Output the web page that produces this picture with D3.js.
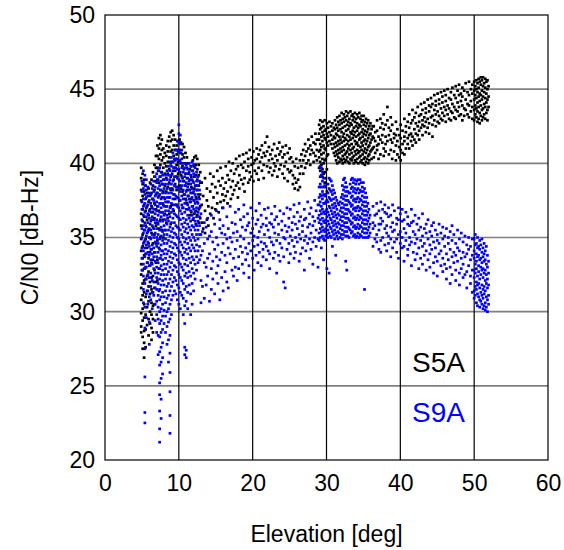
<!DOCTYPE html>
<html><head><meta charset="utf-8">
<script src="https://cdn.jsdelivr.net/npm/d3@7"></script>
<style>body{margin:0;background:#fff}svg{display:block;font-family:"Liberation Sans",Arial,Helvetica,sans-serif}</style>
</head><body><svg id="chart" width="564" height="550"></svg>
<script>
const xTicks=[0,10,20,30,40,50,60];
const yTicks=[20,25,30,35,40,45,50];
const seriesNames=["S5A","S9A"];
const seriesColors=["#000000","#0000ff"];
const xTitle="Elevation [deg]";
const yTitle="C/N0 [dB-Hz]";
// rows: [elevation, C/N0 readings at that elevation...]
const s5aLow=[
[4.9,39.7,39.0,38.2,37.5,36.6,35.8,34.9,34.1,33.2,32.5,31.6,30.8,29.9,29.0,28.6],
[5.1,39.3,38.6,37.8,36.9,36.1,35.2,34.4,33.6,32.8,31.9,31.1,30.2,29.4,28.3,27.5],
[5.3,38.9,38.1,37.2,36.4,35.5,34.7,33.8,32.9,32.1,31.3,30.5,29.6,28.7,27.9,26.9],
[5.5,38.5,37.6,36.8,35.8,34.9,33.9,33.0,32.2,31.0,29.8,28.8,27.6],
[5.7,38.0,37.1,36.2,35.3,34.3,33.3,32.4,31.4,30.3,29.1],
[5.9,38.3,37.4,36.5,35.5,34.6,33.6,32.7,31.7,30.7,29.5,28.4],
[6.1,38.7,37.8,36.9,35.9,35.0,34.0,33.1,32.0,31.2,30.0,29.2],
[6.3,38.9,38.0,37.1,36.2,35.3,34.2,33.3,32.3,31.5,30.6,29.8,28.9,28.1],
[6.5,39.4,38.5,37.6,36.7,35.7,34.6,33.5,32.4,31.3,30.4,29.5,28.6],
[6.7,39.9,39.1,38.2,37.3,36.3,35.2,34.0,32.8,31.6,30.5],
[6.9,40.5,39.7,38.8,37.9,36.9,35.8,34.6,33.3,32.0],
[7.1,41.2,40.5,39.7,38.9,38.0,37.1,36.0,34.8,33.5,32.1],
[7.3,41.7,41.0,40.3,39.5,38.7,37.8,36.8,35.6,34.3,32.9,31.4],
[7.5,41.9,41.3,40.6,39.9,39.1,38.2,37.3,36.2,35.0,33.6],
[7.7,41.6,40.9,40.2,39.4,38.6,37.7,36.7,35.5,34.1],
[7.9,41.0,40.4,39.7,38.9,38.1,37.2,36.2,35.0],
[8.1,40.7,40.0,39.3,38.5,37.6,36.6,35.5],
[8.3,41.2,40.5,39.8,39.0,38.1,37.1,36.0],
[8.5,41.5,40.8,40.1,39.3,38.4,37.4,36.3],
[8.7,41.8,41.1,40.4,39.6,38.7,37.7,36.6],
[8.9,42.1,41.5,40.8,40.0,39.1,38.2,37.1,35.9],
[9.1,42.2,41.6,40.9,40.1,39.3,38.3,37.2],
[9.3,41.9,41.2,40.5,39.7,38.9,37.9,36.8],
[9.5,41.6,40.9,40.2,39.5,38.6,37.6],
[9.7,41.2,40.6,39.9,39.1,38.2,37.2],
[9.9,41.5,40.8,40.1,39.3,38.4],
[10.1,41.6,40.9,40.2,39.4,38.5,37.5],
[10.3,41.4,40.7,40.0,39.2,38.3],
[10.5,41.3,40.6,39.8,39.0,38.1,37.0],
[10.7,41.1,40.4,39.6,38.8,37.9],
[10.9,40.7,40.0,39.3,38.5,37.6],
[11.1,40.4,39.7,39.0,38.2,37.3],
[11.3,40.0,39.3,38.6,37.8,36.9],
[11.5,39.6,38.9,38.2,37.4,36.5],
[11.7,39.8,39.1,38.4,37.6,36.7],
[11.9,40.2,39.5,38.8,38.0,37.1,36.2],
[12.1,40.4,39.8,39.1,38.3,37.5,36.6],
[12.3,40.5,39.9,39.2,38.5,37.7,36.8,35.9],
[12.5,40.3,39.6,38.9,38.2,37.4,36.5],
[12.7,39.9,39.2,38.5,37.7,36.9,36.0],
[12.9,39.4,38.7,37.9,37.1,36.3]];
const s5aMid=[
[13.1,38.7,37.2,36.0],[13.3,37.8,35.6],[13.55,39.0,36.8,35.3],[13.8,38.3,37.5,36.2],[14.0,37.1,35.8],
[14.25,39.3,38.1,36.6],[14.5,38.6,37.0],[14.7,39.1,37.7,36.3],[14.95,38.4,36.9],[15.2,39.5,38.0,37.3],
[15.4,38.8,36.7],[15.65,39.7,38.5,37.4],[15.9,39.0,37.9,37.0],[16.1,38.3,37.5],[16.35,39.8,38.7,37.8],
[16.6,39.2,38.1,37.3],[16.8,40.1,38.9],[17.05,39.5,38.4,37.6],[17.3,40.0,38.8,37.9],[17.5,39.3,38.2],
[17.75,40.3,39.6,38.5],[18.0,39.8,38.7,37.7],[18.2,40.5,39.2,38.3],[18.45,39.9,38.9],[18.7,40.6,39.7,38.6],
[18.9,40.1,39.0,38.1],[19.15,40.7,39.5],[19.4,40.3,39.8,38.7],[19.6,40.9,39.4,38.9],[19.85,40.4,39.9,39.1],
[20.1,40.8,40.0,38.8],[20.3,40.2,39.5],[20.55,41.0,40.3,39.3],[20.8,40.6,39.7,38.9],[21.0,40.9,40.1],
[21.25,41.2,40.4,39.5],[21.5,40.7,39.9,39.0],[21.7,41.4,40.5],[21.95,41.8,40.8,39.8],[22.2,41.1,40.2,39.4],
[22.4,40.6,39.7],[22.65,40.9,40.3,39.2],[22.9,41.3,40.0,39.5],[23.1,40.5,39.8],[23.35,41.0,40.2,39.1],
[23.6,41.4,40.6,39.6],[23.8,40.8,39.9],[24.05,41.1,40.4,39.3],[24.3,40.6,39.8,39.0],[24.5,41.2,40.1],
[24.75,40.7,39.6,38.8],[25.0,41.0,40.3,39.4],[25.2,40.4,39.5],[25.45,40.1,39.2,38.6],[25.7,39.8,39.0,38.3],
[25.9,40.3,38.7],[26.15,39.7,38.9,38.2],[26.4,40.2,39.3,38.4],[26.6,40.6,39.8],[26.85,40.9,40.2,39.3],
[27.1,41.3,40.5,39.7],[27.3,40.8,40.0],[27.55,41.6,41.0,40.2],[27.8,41.2,40.6,39.9],[28.0,41.8,40.9],
[28.25,41.4,40.7,40.1],[28.5,42.0,41.3,40.5],[28.7,41.6,40.9,40.2]];
const s5aHigh=[
[29.0,42.6,42.0,41.6,40.8,40.4,39.7],[29.15,42.9,42.3,41.3,40.9,40.1,39.5],[29.3,42.4,41.8,41.1,40.6,39.9],
[29.45,42.8,42.1,41.5,40.3,39.6,39.1],[29.6,42.5,41.9,41.2,40.7,40.0,39.3],[29.75,42.9,42.2,41.7,41.0,40.2,39.4,38.7],
[29.9,42.3,41.6,40.9,40.3,39.0,38.4],[30.05,42.7,42.0,41.4,40.5,39.6,38.1],[30.2,42.4,41.8,41.2,40.6],
[30.4,42.8,42.1,41.5],[30.6,42.5,41.9,41.3],[30.8,42.7,42.2,41.6,41.0],[31.0,42.4,41.8,41.3,40.7],
[31.15,42.9,42.3,41.7,41.1,40.5],[31.3,42.6,42.0,41.4,40.8,40.2],[31.45,43.1,42.4,41.9,41.2,40.6,40.0],
[31.6,42.8,42.2,41.5,40.9,40.4],[31.75,43.2,42.6,41.8,41.3,40.7,40.1],[31.9,42.9,42.3,41.6,41.0,40.3],
[32.05,43.4,42.7,42.1,41.4,40.8,40.2],[32.2,43.0,42.4,41.8,41.1,40.5,40.0],[32.35,43.3,42.8,42.0,41.5,40.9,40.3],
[32.5,43.1,42.5,41.7,41.2,40.6,40.1],[32.65,43.5,42.9,42.2,41.6,40.7,40.2],[32.8,43.2,42.6,41.9,41.3,40.8,40.4],
[32.95,43.4,42.8,42.3,41.5,41.0,40.1],[33.1,43.0,42.5,41.8,41.2,40.6,40.0],[33.25,43.5,42.7,42.1,41.6,40.9,40.3],
[33.4,43.2,42.6,42.0,41.3,40.7,40.2],[33.55,43.3,42.9,42.2,41.7,41.0,40.4],[33.7,43.1,42.4,41.9,41.1,40.5,40.0],
[33.85,43.4,42.8,42.1,41.5,40.8,40.2],[34.0,43.0,42.5,41.8,41.3,40.6,40.1],[34.15,43.3,42.7,42.2,41.4,40.9,40.3],
[34.3,43.1,42.4,41.9,41.2,40.7,40.0],[34.45,43.4,42.6,42.0,41.6,40.8,40.4],[34.6,43.0,42.5,41.7,41.1,40.5,40.1],
[34.75,43.2,42.8,42.1,41.4,40.9,40.2],[34.9,42.9,42.3,41.8,41.2,40.6,40.0],[35.05,43.2,42.6,42.0,41.5,40.8,40.3],
[35.2,42.8,42.2,41.6,41.0,40.4,39.9],[35.35,43.0,42.5,41.9,41.3,40.7,40.1],[35.5,42.7,42.1,41.5,40.9,40.3],
[35.65,42.9,42.3,41.7,41.1,40.5,40.0],[35.8,42.5,41.9,41.2,40.6,40.2],[35.95,42.7,42.0,41.4,40.8],
[36.1,42.3,41.6,40.9,40.3],[36.25,42.5,41.8,41.0]];
const s5aTail=[
[36.4,42.5,41.7,41.1,40.4],[36.6,42.1,41.5,40.7],[36.85,42.9,42.2,41.2,40.9],[37.05,41.8,41.3,40.3],
[37.3,43.0,42.4,41.6,40.6],[37.55,42.7,41.9,41.4],[37.75,43.3,42.3,41.0,40.5],[38.0,42.6,41.8,41.3,40.8],
[38.25,43.8,42.9,41.5],[38.45,42.4,41.9,40.6],[38.7,43.1,42.2,41.6,40.9],[38.9,42.6,41.4,40.3],
[39.15,42.0,41.7,40.8],[39.4,42.8,41.9,41.2,40.2],[39.6,42.3,41.5,40.6],[39.85,41.9,41.1,40.4],
[40.05,42.6,41.7,40.9,40.2],[40.3,42.2,41.3,40.7],[40.55,43.0,41.8,41.5,40.6],[40.75,42.5,42.1,41.0],
[41.0,42.8,41.7,41.3],[41.2,43.3,42.4,41.9,41.0],[41.45,42.7,42.0,41.5],[41.65,43.6,42.9,41.8,41.2],
[41.9,43.1,42.3,41.6],[42.1,43.4,42.7,42.0,41.4],[42.35,43.8,42.5,41.9],[42.55,43.2,42.8,42.2,41.6],
[42.8,44.0,43.3,42.4],[43.0,43.6,42.9,42.6,41.9],[43.25,44.1,43.1,42.5],[43.45,43.7,43.4,42.8,42.1],
[43.7,44.3,43.0,42.4],[43.9,43.9,43.5,42.7,42.0],[44.15,44.4,43.8,43.1],[44.35,44.0,43.2,42.6,41.8],
[44.6,44.6,43.6,42.9],[44.8,44.2,43.9,43.3,42.5],[45.05,44.7,43.5,42.8],[45.25,44.3,44.0,43.2,42.7],
[45.5,44.8,43.7,43.0],[45.7,44.5,44.1,43.4,42.9],[45.95,44.9,43.8,43.2],[46.15,44.6,44.2,43.6,42.8],
[46.4,45.0,43.9,43.3],[46.6,44.4,43.7,43.0],[46.85,44.8,44.3,43.5,42.9],[47.05,45.1,44.0,43.4],
[47.3,44.6,43.8,43.1],[47.5,45.2,44.4,43.6,43.0],[47.75,44.9,44.1,43.5],[47.95,45.3,44.6,43.8,43.2],
[48.2,44.7,44.2,43.3],[48.4,45.1,44.5,43.9,42.9],[48.65,44.9,43.7,43.2],[48.85,45.4,44.3,43.6],
[49.1,44.8,44.0,43.3],[49.3,45.5,44.6,43.9,43.1],[49.55,45.0,44.2,43.5],[49.75,45.3,44.7,43.8,43.0],
[50.0,45.5,44.9,44.3,43.6,42.9],[50.15,45.2,44.6,43.9,43.3],[50.3,45.6,45.0,44.4,43.7,43.1],
[50.45,45.4,44.8,44.1,43.5,42.8],[50.6,45.7,45.1,44.5,43.8,43.0],[50.75,45.5,44.7,44.2,43.4,42.7],
[50.9,45.8,45.3,44.6,43.9,43.2],[51.05,45.6,44.9,44.3,43.6,42.9],[51.2,45.8,45.2,44.5,43.7,43.1],
[51.35,45.4,44.8,44.0,43.3],[51.5,45.7,45.1,44.4,43.8,43.0],[51.65,45.5,44.7,44.1,43.4],
[51.8,45.6,45.0,44.3,43.6,42.9],[51.95,45.2,44.5,43.8]];
const s9aLow=[
[5.0,38.8,38.1,37.4,36.9,36.2,35.6,35.0,34.3,33.6,32.8],
[5.2,39.5,38.7,38.3,37.6,37.1,36.5,35.8,35.3,34.6,34.1,33.2,32.4,31.5,30.6],
[5.4,39.2,38.5,37.9,37.3,36.7,36.0,35.5,34.8,34.3,33.7,32.9,31.9,30.3,28.9,27.5,25.6,23.2,22.5],
[5.6,38.9,38.2,37.7,37.0,36.4,35.7,35.1,34.5,33.9,33.0,32.2,31.2,29.6],
[5.8,38.4,37.8,37.2,36.6,36.0,35.4,34.7,34.0,33.3,32.5,31.4,30.5],
[6.0,38.0,37.5,36.8,36.3,35.6,35.0,34.4,33.8,33.1,32.3,31.0,29.3,27.8],
[6.2,38.6,37.9,37.3,36.7,36.1,35.5,34.9,34.2,33.5,32.6,31.7,30.8],
[6.4,38.3,37.6,37.0,36.4,35.8,35.2,34.5,33.9,33.2,32.1,31.3,30.2],
[6.6,38.8,38.1,37.5,36.9,36.2,35.6,35.0,34.3,33.7,32.9,32.0,31.1],
[6.8,39.1,38.4,37.8,37.2,36.6,36.0,35.3,34.7,34.0,33.4,32.6,31.6,30.5,29.4],
[7.0,39.3,38.7,38.0,37.4,36.8,36.2,35.6,35.0,34.4,33.7,33.0,32.3,31.5,30.7,29.8,28.6],
[7.2,39.5,38.9,38.3,37.7,37.1,36.5,35.9,35.2,34.6,34.0,33.3,32.6,31.9,31.1,30.3,29.5,28.4,27.1],
[7.4,39.7,39.1,38.5,37.9,37.3,36.7,36.1,35.5,34.9,34.2,33.6,32.9,32.2,31.5,30.8,30.0,29.2,28.3,27.3,26.4,25.2,24.4,23.3,22.1,21.2],
[7.6,39.4,38.8,38.2,37.6,37.0,36.4,35.7,35.1,34.5,33.8,33.1,32.5,31.8,31.0,30.2,29.4,28.6,27.6,26.6,25.5,24.1,22.8],
[7.8,39.2,38.6,38.0,37.3,36.7,36.1,35.4,34.8,34.1,33.5,32.8,32.1,31.3,30.5,29.7,28.8,27.9,26.9,25.8],
[8.0,38.9,38.3,37.7,37.1,36.5,35.8,35.2,34.6,33.9,33.2,32.5,31.8,31.0,30.1,29.2],
[8.2,39.2,38.6,38.0,37.4,36.8,36.2,35.5,34.9,34.2,33.6,32.9,32.2,31.4,30.6,29.7,28.6],
[8.4,39.5,38.9,38.3,37.7,37.1,36.5,35.9,35.2,34.6,33.9,33.2,32.5,31.7,30.9,30.0,29.0,27.8],
[8.6,39.8,39.2,38.6,38.0,37.4,36.8,36.1,35.5,34.8,34.1,33.4,32.7,31.9,31.1,30.2,29.3,28.1,26.6],
[8.8,40.1,39.5,38.9,38.3,37.7,37.0,36.4,35.7,35.1,34.4,33.7,33.0,32.2,31.4,30.5,29.5,28.4,27.2,25.9,24.6,23.0,21.8],
[9.0,40.4,39.8,39.2,38.6,38.0,37.3,36.7,36.0,35.4,34.7,34.0,33.3,32.5,31.7,30.8,29.8],
[9.2,40.7,40.1,39.5,38.8,38.2,37.6,36.9,36.3,35.6,35.0,34.3,33.6,32.8,32.0,31.1],
[9.4,40.3,39.7,39.1,38.5,37.9,37.2,36.6,36.0,35.3,34.6,33.9,33.1,32.3,31.4],
[9.6,40.9,40.3,39.7,39.1,38.4,37.8,37.2,36.5,35.8,35.2,34.5,33.8,33.0,32.1,31.2],
[9.8,41.5,40.9,40.3,39.6,39.0,38.4,37.7,37.1,36.4,35.7,35.0,34.3,33.5,32.7,31.8,30.8],
[10.0,42.6,42.0,41.4,40.8,40.2,39.6,38.9,38.3,37.6,37.0,36.3,35.6,34.9,34.1,33.3,32.5,31.6,30.5],
[10.2,41.9,41.3,40.7,40.1,39.4,38.8,38.1,37.5,36.8,36.2,35.5,34.7,34.0,33.2,32.3,31.3,30.2],
[10.4,40.9,40.3,39.7,39.1,38.5,37.8,37.2,36.6,35.9,35.2,34.5,33.8,33.0,32.1,31.1],
[10.6,40.0,39.4,38.8,38.2,37.6,37.0,36.3,35.7,35.0,34.3,33.6,32.8,31.9,30.9,29.8],
[10.8,39.7,39.1,38.5,37.9,37.3,36.7,36.0,35.4,34.7,34.0,33.2,32.4,31.5,30.4,29.2,27.6,27.1],
[11.0,39.9,39.3,38.7,38.1,37.5,36.9,36.2,35.6,34.9,34.2,33.5,32.6,31.7,30.7,27.4,26.9],
[11.2,39.6,39.0,38.4,37.8,37.2,36.5,35.9,35.3,34.6,33.9,33.1,32.3,31.3,30.2],
[11.4,40.0,39.4,38.8,38.2,37.6,37.0,36.3,35.7,35.0,34.3,33.6,32.7,31.8],
[11.6,39.8,39.2,38.6,38.0,37.4,36.8,36.1,35.5,34.8,34.1,33.3,32.4,31.2,29.8],
[11.8,40.1,39.5,38.9,38.3,37.7,37.1,36.5,35.8,35.2,34.5,33.7,32.9,31.9,30.5],
[12.0,39.9,39.3,38.7,38.1,37.5,36.9,36.3,35.7,35.0,34.3,33.5,32.6,31.4],
[12.2,39.7,39.1,38.5,37.9,37.3,36.7,36.1,35.5,34.8,34.1,33.2,32.2],
[12.4,39.4,38.8,38.2,37.6,37.0,36.4,35.8,35.2,34.5,33.7,32.8],
[12.6,39.1,38.5,37.9,37.3,36.7,36.1,35.5,34.9,34.1,33.3],
[12.8,38.8,38.2,37.6,37.0,36.4,35.8,35.2,34.4,33.5]];
const s9aMid=[
[13.0,36.6,35.2,33.8,32.1,30.6],[13.2,35.4,34.1,31.7],[13.45,36.0,34.6,33.3,30.9],[13.7,35.7,33.0,31.8],
[13.9,36.3,34.9,33.6,32.4],[14.15,35.1,33.9,30.7],[14.4,36.5,35.4,32.9,31.5],[14.6,34.7,33.4,32.2],
[14.85,35.9,34.2,31.2],[15.1,36.8,35.0,33.7,32.6],[15.3,34.5,33.1,31.9],[15.55,36.2,35.6,33.5,30.8],
[15.8,35.3,34.0,32.3],[16.0,37.0,35.8,34.6,31.4],[16.25,35.2,33.8,32.7],[16.5,36.4,34.9,33.3,32.0],
[16.7,35.6,34.3,31.6],[16.95,37.1,35.0,33.9],[17.2,36.0,34.7,32.8],[17.4,35.3,33.6,32.4],
[17.65,36.7,35.9,34.2,33.0],[17.9,35.4,34.8,32.1],[18.1,36.9,33.7,32.9],[18.35,36.2,35.1,34.4],
[18.6,35.7,34.0,33.2],[18.8,37.2,36.4,34.9,32.6],[19.05,35.5,34.3,33.5],[19.3,36.6,35.8,33.9],
[19.5,36.0,34.6,33.1,32.3],[19.75,37.0,35.3,34.1],[20.0,36.3,35.6,34.8,33.6],[20.2,35.1,34.4,32.8],
[20.45,36.8,35.9,33.8],[20.7,36.2,35.0,34.5,33.3],[20.9,37.3,35.4,34.0],[21.15,36.5,35.7,34.7,33.1],
[21.4,35.9,34.2,33.7],[21.6,36.9,35.2,34.6],[21.85,36.3,35.8,34.4,33.5],[22.1,37.0,35.5,34.1],
[22.3,36.0,35.0,33.9,32.9],[22.55,36.6,35.9,34.7],[22.8,35.7,34.5,33.6],[23.0,37.1,36.2,35.3,34.0],
[23.25,36.4,34.8,32.6],[23.5,35.9,35.2,33.8],[23.7,36.8,34.6,33.4],[23.95,36.1,35.5,34.3],
[24.2,36.6,35.0,33.7,32.0],[24.4,35.8,34.9,31.6],[24.65,37.0,35.4,34.2],[24.9,36.3,35.7,34.6,33.3],
[25.1,36.9,35.1,33.9],[25.35,36.0,35.5,34.8],[25.6,37.2,36.4,34.4,33.6],[25.8,35.9,35.0,34.0],
[26.05,36.7,35.6,34.7],[26.3,37.3,36.1,35.2,33.4],[26.5,36.4,34.9,33.9],[26.75,35.8,35.4,34.3],
[27.0,36.9,36.2,34.8,32.8],[27.2,36.3,35.1,34.1],[27.45,37.4,35.7,34.6],[27.7,36.6,35.9,34.9,33.6],
[27.9,37.0,35.3,34.2],[28.15,36.4,35.8,34.7,33.2],[28.4,37.5,36.1,35.0],[28.6,36.8,35.5,34.4],
[28.85,37.2,36.3,34.9,33.0]];
const s9aHigh=[
[29.0,38.4,37.7,37.2,36.5,36.0,35.3,34.8],[29.15,39.8,39.1,38.6,37.9,37.4,36.8,36.2,35.6,35.0],
[29.3,39.7,39.2,38.4,37.8,37.1,36.6,35.9,35.4,34.3],[29.45,39.4,38.8,38.1,37.6,36.9,36.3,35.7,35.1],
[29.6,39.0,38.4,37.9,37.3,36.7,36.1,35.5,34.9,33.5],[29.75,38.5,37.8,37.3,36.6,36.0,35.4,34.8],
[29.9,37.9,37.4,36.8,36.2,35.6,35.1],[30.05,37.5,36.9,36.4,35.8,35.2,32.9],
[30.2,38.6,38.0,37.4,36.7,36.1,35.5,35.0],[30.35,39.0,38.3,37.7,37.1,36.5,35.9,35.3,32.6],
[30.5,38.9,38.2,37.6,37.0,36.3,35.7,35.1],[30.65,38.8,38.1,37.5,36.8,36.2,35.6,35.0],
[30.8,38.5,37.9,37.2,36.6,36.0,35.4,34.4],[30.95,38.2,37.6,37.0,36.4,35.8,35.2],
[31.1,38.0,37.3,36.7,36.1,35.5,34.9],[31.25,37.7,37.1,36.5,35.9,35.3,33.8],
[31.4,37.5,36.9,36.3,35.7,35.1],[31.55,37.3,36.6,36.0,35.4,34.9],[31.7,37.2,36.5,35.9,35.3],
[31.85,37.4,36.8,36.2,35.6,35.0],[32.0,37.7,37.0,36.4,35.8,35.2],
[32.15,38.5,37.9,37.3,36.7,36.1,35.5,34.9],[32.3,38.9,38.2,37.6,37.0,36.4,35.8,35.2],
[32.45,39.0,38.4,37.8,37.2,36.6,36.0,35.4],[32.6,38.7,38.1,37.5,36.9,36.3,35.7,35.1,33.4],
[32.75,38.4,37.8,37.2,36.6,36.0,35.4,32.8],[32.9,38.1,37.5,36.9,36.3,35.7,35.1],
[33.05,38.0,37.4,36.8,36.2,35.6,35.0],[33.2,38.6,38.0,37.3,36.7,36.1,35.5],
[33.35,38.9,38.3,37.7,37.1,36.5,35.9,35.3],[33.5,39.0,38.4,37.8,37.2,36.6,36.0,35.4],
[33.65,38.7,38.1,37.5,36.9,36.3,35.7,35.1],[33.8,38.9,38.3,37.6,37.0,36.4,35.8,35.2],
[33.95,38.6,38.0,37.4,36.8,36.2,35.6,35.0],[34.1,38.8,38.2,37.6,37.0,36.3,35.7,35.1],
[34.25,38.9,38.3,37.7,37.1,36.5,35.9,35.3],[34.4,38.6,38.0,37.4,36.8,36.2,35.6,35.0],
[34.55,38.9,38.2,37.6,37.0,36.4,35.8,35.2],[34.7,38.7,38.1,37.5,36.9,36.3,35.7,35.1],
[34.85,38.4,37.8,37.2,36.6,36.0,35.4],[35.0,38.7,38.1,37.4,36.8,36.2,35.6,35.0],
[35.15,38.3,37.7,37.1,36.5,35.9,35.3,31.5],[35.3,38.0,37.4,36.8,36.2,35.6,35.0],
[35.45,37.7,37.1,36.5,35.9,35.3],[35.6,37.3,36.7,36.1,35.5,35.0],[35.75,36.9,36.3,35.7,35.1],
[35.9,36.5,35.9,35.3]];
const s9aTail=[
[36.3,37.1,36.0,35.6,34.4],[36.55,36.5,35.8,34.9],[36.8,37.3,36.6,35.2,34.7],[37.1,36.8,35.9,35.5,34.2],
[37.35,37.4,36.3,35.9,34.8,34.0],[37.6,36.9,36.1,35.0],[37.9,37.2,36.7,35.6,34.5],[38.15,36.6,35.8,35.3,34.1],
[38.4,37.0,36.4,35.1,34.6],[38.7,36.5,35.7,34.9,33.7],[38.95,37.2,36.0,35.4,34.3],[39.2,36.8,35.5,34.7],
[39.5,36.3,35.9,34.9,34.0],[39.75,37.0,36.2,35.2,33.6],[40.0,36.6,35.4,34.6],[40.25,36.9,36.1,35.0,34.3],
[40.5,36.2,35.6,34.4,33.4],[40.75,36.7,35.3,34.8],[41.0,36.4,35.9,34.2,33.8],[41.25,35.8,35.0,34.5],
[41.5,36.9,36.0,34.7,33.1],[41.75,36.1,35.4,34.0],[42.0,36.5,35.2,34.6,33.5],[42.25,35.9,34.9,33.9],
[42.5,36.3,35.5,34.3,32.9],[42.75,35.7,34.8,33.6],[43.0,36.6,35.1,34.4,33.2],[43.25,35.6,34.6,33.8],
[43.5,35.9,35.3,34.1,32.8],[43.75,36.2,34.9,33.5],[44.0,35.4,34.5,33.9,33.0],[44.25,35.8,35.1,34.2],
[44.5,36.0,34.7,33.3,32.6],[44.75,35.5,34.3,33.7],[45.0,35.2,34.8,33.4,32.4],[45.25,35.9,34.6,33.9],
[45.5,35.3,34.1,33.1],[45.75,35.7,34.9,33.6,32.7],[46.0,35.1,34.4,33.2],[46.25,35.6,33.9,32.9,32.2],
[46.5,35.0,34.6,33.5],[46.75,35.4,34.2,33.0,31.9],[47.0,35.8,34.8,33.7,32.5],[47.25,35.2,34.0,33.3],
[47.5,34.6,33.8,32.8,32.1],[47.75,35.5,34.3,33.4],[48.0,34.9,34.1,32.6,31.8],[48.25,35.3,33.6,32.9],
[48.5,34.7,34.0,33.2,32.3],[48.75,35.1,33.7,32.5],[49.0,34.5,33.9,32.7,31.6],[49.25,35.0,34.2,33.1],
[49.5,34.4,33.5,32.4,31.9],[49.75,34.9,33.8,32.8,31.3],
[50.0,34.9,34.1,33.6,32.8,32.3,31.4,30.9],[50.15,35.2,34.5,33.2,32.6,31.7,31.1],
[50.3,34.6,33.9,33.4,32.9,32.0,31.5,30.6],[50.45,35.0,34.3,33.7,32.4,31.8,31.2,30.4],
[50.6,34.4,33.8,33.1,32.7,31.9,31.0],[50.75,34.8,34.2,33.5,32.2,31.6,30.8,30.3],
[50.9,34.5,33.6,33.0,32.5,31.3,30.7],[51.05,34.9,34.0,33.3,32.8,31.8,31.1,30.5],
[51.2,34.3,33.7,32.9,32.3,31.5,30.9,30.2],[51.35,34.6,33.9,33.4,32.6,31.7,31.2,30.4],
[51.5,34.1,33.5,32.8,32.1,31.4,30.6,30.1],[51.65,34.4,33.2,32.5,31.9,31.0,30.3],
[51.8,33.8,33.0,32.2,31.6,30.8,30.0],[51.95,33.4,32.6,31.8,31.1,30.5]];

function toPoints(rows){const out=[];rows.forEach(r=>{for(let i=1;i<r.length;i++)out.push({e:r[0],v:r[i]});});return out;}
const series=[
 {name:seriesNames[0],color:seriesColors[0],pts:toPoints([].concat(s5aLow,s5aMid,s5aHigh,s5aTail))},
 {name:seriesNames[1],color:seriesColors[1],pts:toPoints([].concat(s9aLow,s9aMid,s9aHigh,s9aTail))}];

const svg=d3.select("#chart");
const L=105,R=548,T=15,B=460;
const x=d3.scaleLinear().domain([0,60]).range([L,R]);
const y=d3.scaleLinear().domain([20,50]).range([B,T]);

svg.append("g").selectAll("line").data(yTicks.filter(t=>t>20&&t<50)).join("line")
 .attr("x1",L).attr("x2",R).attr("y1",d=>y(d)).attr("y2",d=>y(d))
 .attr("stroke","#808080").attr("stroke-width",1.6);
svg.append("g").selectAll("line").data(xTicks.filter(t=>t>0&&t<60)).join("line")
 .attr("y1",T).attr("y2",B).attr("x1",d=>x(d)).attr("x2",d=>x(d))
 .attr("stroke","#000").attr("stroke-width",1.2);

const ms=2.7;
series.forEach(s=>{
 svg.append("g").attr("fill",s.color).selectAll("rect").data(s.pts).join("rect")
  .attr("x",d=>x(d.e)-ms/2).attr("y",d=>y(d.v)-ms/2).attr("width",ms).attr("height",ms);
});

svg.append("rect").attr("x",L).attr("y",T).attr("width",R-L).attr("height",B-T)
 .attr("fill","none").attr("stroke","#000").attr("stroke-width",1.2);

const ax=svg.append("g").attr("transform",`translate(0,${B})`)
 .call(d3.axisBottom(x).tickValues(xTicks).tickSize(0).tickPadding(15).tickFormat(d3.format("d")));
ax.select(".domain").remove();
ax.selectAll("text").attr("font-size",23).attr("fill","#000").attr("font-family","Liberation Sans, Arial, sans-serif");
const ay=svg.append("g").attr("transform",`translate(${L},0)`)
 .call(d3.axisLeft(y).tickValues(yTicks).tickSize(0).tickPadding(10).tickFormat(d3.format("d")));
ay.select(".domain").remove();
ay.selectAll("text").attr("font-size",23).attr("fill","#000").attr("font-family","Liberation Sans, Arial, sans-serif");

svg.append("text").attr("x",(L+R)/2).attr("y",542).attr("text-anchor","middle")
 .attr("font-size",23).text(xTitle);
svg.append("text").attr("transform",`translate(38,${(T+B)/2}) rotate(-90)`).attr("text-anchor","middle")
 .attr("font-size",23).text(yTitle);

series.forEach((s,i)=>{
 svg.append("text").attr("x",412).attr("y",372+i*50).attr("font-size",28).attr("fill",s.color).text(s.name);
});
</script></body></html>
